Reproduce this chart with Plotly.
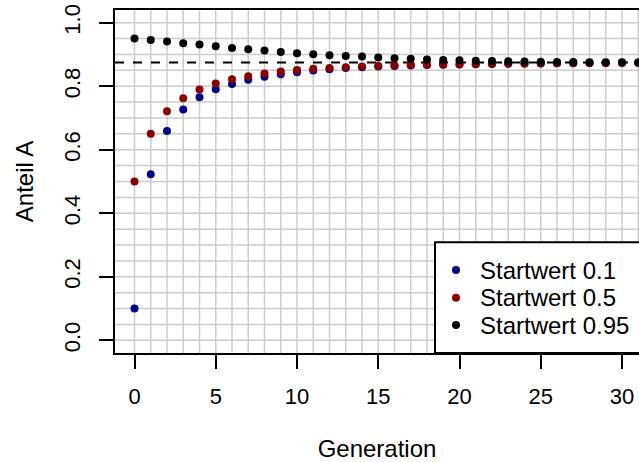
import numpy as np
import plotly.graph_objects as go

# ---------------- data ----------------
generation = list(range(32))
series_names = ["Startwert 0.1", "Startwert 0.5", "Startwert 0.95"]
series_colors = ["#00008B", "#8B0000", "#000000"]

anteil_start_01 = [0.100, 0.5231, 0.6594, 0.7266, 0.7653, 0.7905, 0.8070, 0.8200,
                   0.8300, 0.8380, 0.8440, 0.8495, 0.8538, 0.8570, 0.8598, 0.8620,
                   0.8638, 0.8653, 0.8666, 0.8677, 0.8687, 0.8695, 0.8702, 0.8708,
                   0.8713, 0.8718, 0.8722, 0.8726, 0.8729, 0.8732, 0.8734, 0.8736]
anteil_start_05 = [0.500, 0.6500, 0.7213, 0.7622, 0.7895, 0.8083, 0.8220, 0.8314,
                   0.8398, 0.8461, 0.8513, 0.8548, 0.8576, 0.8600, 0.8620, 0.8638,
                   0.8653, 0.8666, 0.8677, 0.8687, 0.8695, 0.8702, 0.8708, 0.8713,
                   0.8718, 0.8722, 0.8726, 0.8729, 0.8732, 0.8734, 0.8736, 0.8738]
anteil_start_095 = [0.950, 0.9457, 0.9405, 0.9352, 0.9310, 0.9258, 0.9205, 0.9163,
                    0.9121, 0.9079, 0.9037, 0.9006, 0.8974, 0.8952, 0.8933, 0.8905,
                    0.8882, 0.8862, 0.8844, 0.8828, 0.8814, 0.8802, 0.8792, 0.8783,
                    0.8776, 0.8770, 0.8765, 0.8761, 0.8757, 0.8754, 0.8751, 0.8749]
gleichgewicht = 0.875

x_tick_vals = [0, 5, 10, 15, 20, 25, 30]
y_tick_vals = [0.0, 0.2, 0.4, 0.6, 0.8, 1.0]
y_tick_text = ["0.0", "0.2", "0.4", "0.6", "0.8", "1.0"]
grid_x = list(range(0, 32))
grid_y = [round(v, 2) for v in np.arange(0, 1.0001, 0.05)]

FONT = "Liberation Sans, Arial, Helvetica, sans-serif"
W, H = 639, 462
ML, MR, MT, MB = 115, 0, 10, 109

fig = go.Figure()
for name, col, vals in zip(series_names, series_colors,
                           [anteil_start_01, anteil_start_05, anteil_start_095]):
    fig.add_trace(go.Scatter(x=generation, y=vals, mode="markers", name=name,
                             marker=dict(color=col, size=8, line=dict(width=0)),
                             showlegend=False))

shapes = []
for gx in grid_x:
    shapes.append(dict(type="line", xref="x", yref="paper", x0=gx, x1=gx, y0=0, y1=1,
                       line=dict(color="#cccccc", width=1.5), layer="below"))
for gy in grid_y:
    shapes.append(dict(type="line", xref="paper", yref="y", x0=0, x1=1, y0=gy, y1=gy,
                       line=dict(color="#cccccc", width=1.5), layer="below"))
shapes.append(dict(type="line", xref="paper", yref="y", x0=0, x1=1,
                   y0=gleichgewicht, y1=gleichgewicht,
                   line=dict(color="black", width=2, dash="9px,9px"), layer="below"))

# manual legend (box runs off the right edge as in the reference)
pw = W - ML - MR
ph = H - MT - MB
def px_x(p):
    return (p - ML) / pw
def px_y(p):
    return (H - MB - p) / ph

shapes.append(dict(type="rect", xref="paper", yref="paper",
                   x0=px_x(435), x1=px_x(700), y0=0, y1=px_y(242.3),
                   line=dict(color="black", width=2), fillcolor="white", layer="above"))
annotations = []
row_y = [270, 297.7, 325]
for name, col, ry in zip(series_names, series_colors, row_y):
    shapes.append(dict(type="circle", xref="paper", yref="paper",
                       xsizemode="pixel", ysizemode="pixel",
                       xanchor=px_x(456), yanchor=px_y(ry),
                       x0=-4, x1=4, y0=-4, y1=4,
                       line=dict(width=0), fillcolor=col, layer="above"))
    annotations.append(dict(xref="paper", yref="paper", x=px_x(478), y=px_y(ry),
                            xanchor="left", yanchor="middle", text=name, showarrow=False,
                            font=dict(family=FONT, size=24, color="black")))

fig.update_layout(
    width=W, height=H,
    margin=dict(l=ML, r=MR, t=MT, b=MB, pad=0),
    paper_bgcolor="white", plot_bgcolor="white",
    font=dict(family=FONT, size=22, color="black"),
    shapes=shapes, annotations=annotations,
    xaxis=dict(range=[-1.2, 31.046], showgrid=False, zeroline=False,
               showline=True, linecolor="black", linewidth=2, mirror=True,
               ticks="outside", ticklen=14, tickwidth=2, tickcolor="black",
               tickvals=x_tick_vals, tickfont=dict(size=22), ticklabelstandoff=9,
               title=dict(text="Generation", font=dict(size=24), standoff=34)),
    yaxis=dict(range=[-0.04, 1.04], showgrid=False, zeroline=False,
               showline=True, linecolor="black", linewidth=2, mirror=False,
               ticks="outside", ticklen=14, tickwidth=2, tickcolor="black",
               tickvals=y_tick_vals, ticktext=y_tick_text, tickangle=-90,
               tickfont=dict(size=22), ticklabelstandoff=10,
               title=dict(text="Anteil A", font=dict(size=24), standoff=20)),
)

fig.write_html("out.html")
